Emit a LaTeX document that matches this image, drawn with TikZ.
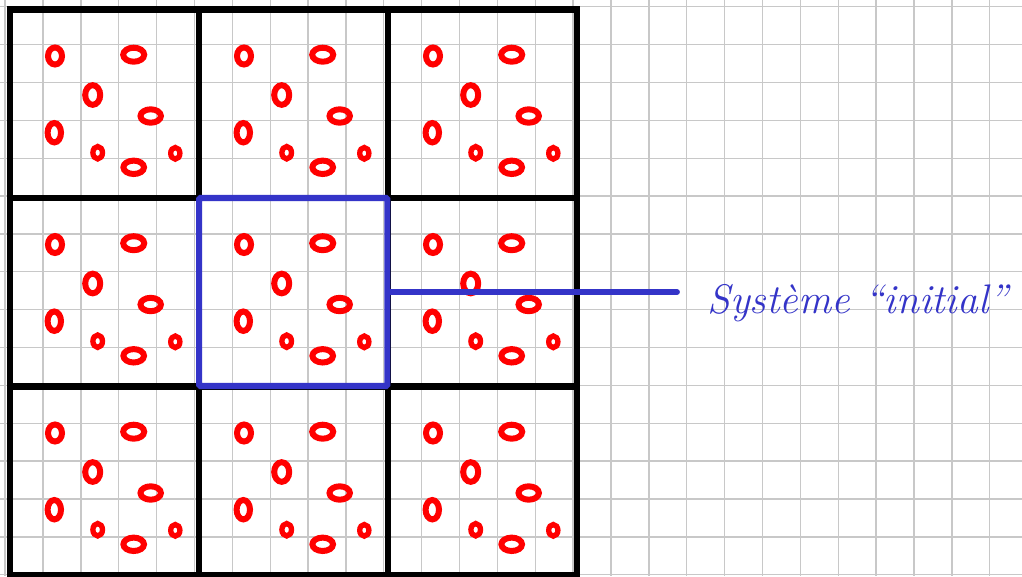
\documentclass[tikz,border=0pt]{standalone}
\usepackage{fontspec}
\definecolor{gridgray}{RGB}{200,200,200}
\definecolor{penblue}{RGB}{52,52,200}
\definecolor{penred}{RGB}{255,0,0}
\tikzset{
  gridline/.style={draw=gridgray, line width=1pt},
  heavy/.style={draw=black, line width=4.6pt},
  ring/.style={draw=penred, line width=4.5pt},
  smallring/.style={draw=penred, line width=4pt},
  bluebox/.style={draw=penblue, line width=4.6pt, rounded corners=1pt, inner sep=0pt, minimum width=141.2pt, minimum height=141pt},
  blueline/.style={draw=penblue, line width=4.4pt, line cap=round},
  hand/.style={text=penblue, inner sep=0pt, font=\fontsize{31}{37}\selectfont\itshape}
}
\begin{document}
\begin{tikzpicture}[x=0.75pt,y=-0.75pt]
\useasboundingbox (0,0) rectangle (1022,576);
\fill[white] (0,0) rectangle (1022,576);
\begin{scope}
\clip (0,0) rectangle (1022,576);
\foreach \i in {0,...,26} \draw[gridline] ({5.1+37.87*\i},0) -- ++(0,576);
\foreach \j in {0,...,15} \draw[gridline] (0,{6.7+37.87*\j}) -- ++(1022,0);
\end{scope}
% red rings in each of the nine cells
\foreach \ox in {10,199,388} {
  \foreach \oy in {10,198.5,387} {
    \begin{scope}[shift={(\ox,\oy)}]
      \draw[ring] (45,46) ellipse [x radius=7, y radius=8.5];
      \draw[ring] (123.7,44.7) ellipse [x radius=10.5, y radius=7];
      \draw[ring] (82.7,85) ellipse [x radius=7.5, y radius=9.8];
      \draw[ring] (140.7,106) ellipse [x radius=10.2, y radius=6.7];
      \draw[ring] (44.3,122.7) ellipse [x radius=6.7, y radius=9.7];
      \draw[smallring] (87.7,142.7) ellipse [x radius=4.8, y radius=6.2];
      \draw[smallring] (165.3,143.3) ellipse [x radius=4.6, y radius=5.8];
      \draw[ring] (123.7,157.3) ellipse [x radius=10.3, y radius=6.7];
    \end{scope}
  }
}
% black 3x3 grid
\draw[heavy] (10,9.5) rectangle (577,575);
\draw[heavy] (199,9.5) -- (199,575);
\draw[heavy] (388,9.5) -- (388,575);
\draw[heavy] (10,198) -- (577,198);
\draw[heavy] (10,386.5) -- (577,386.5);
% initial system
\node[bluebox] (init) at (293.2,292) {};
\node[hand, anchor=base west] (label) at (707,313) {Système “initial”};
\coordinate (tip) at (677,292);
\draw[blueline] (init.east) -- (tip);
\end{tikzpicture}
\end{document}
